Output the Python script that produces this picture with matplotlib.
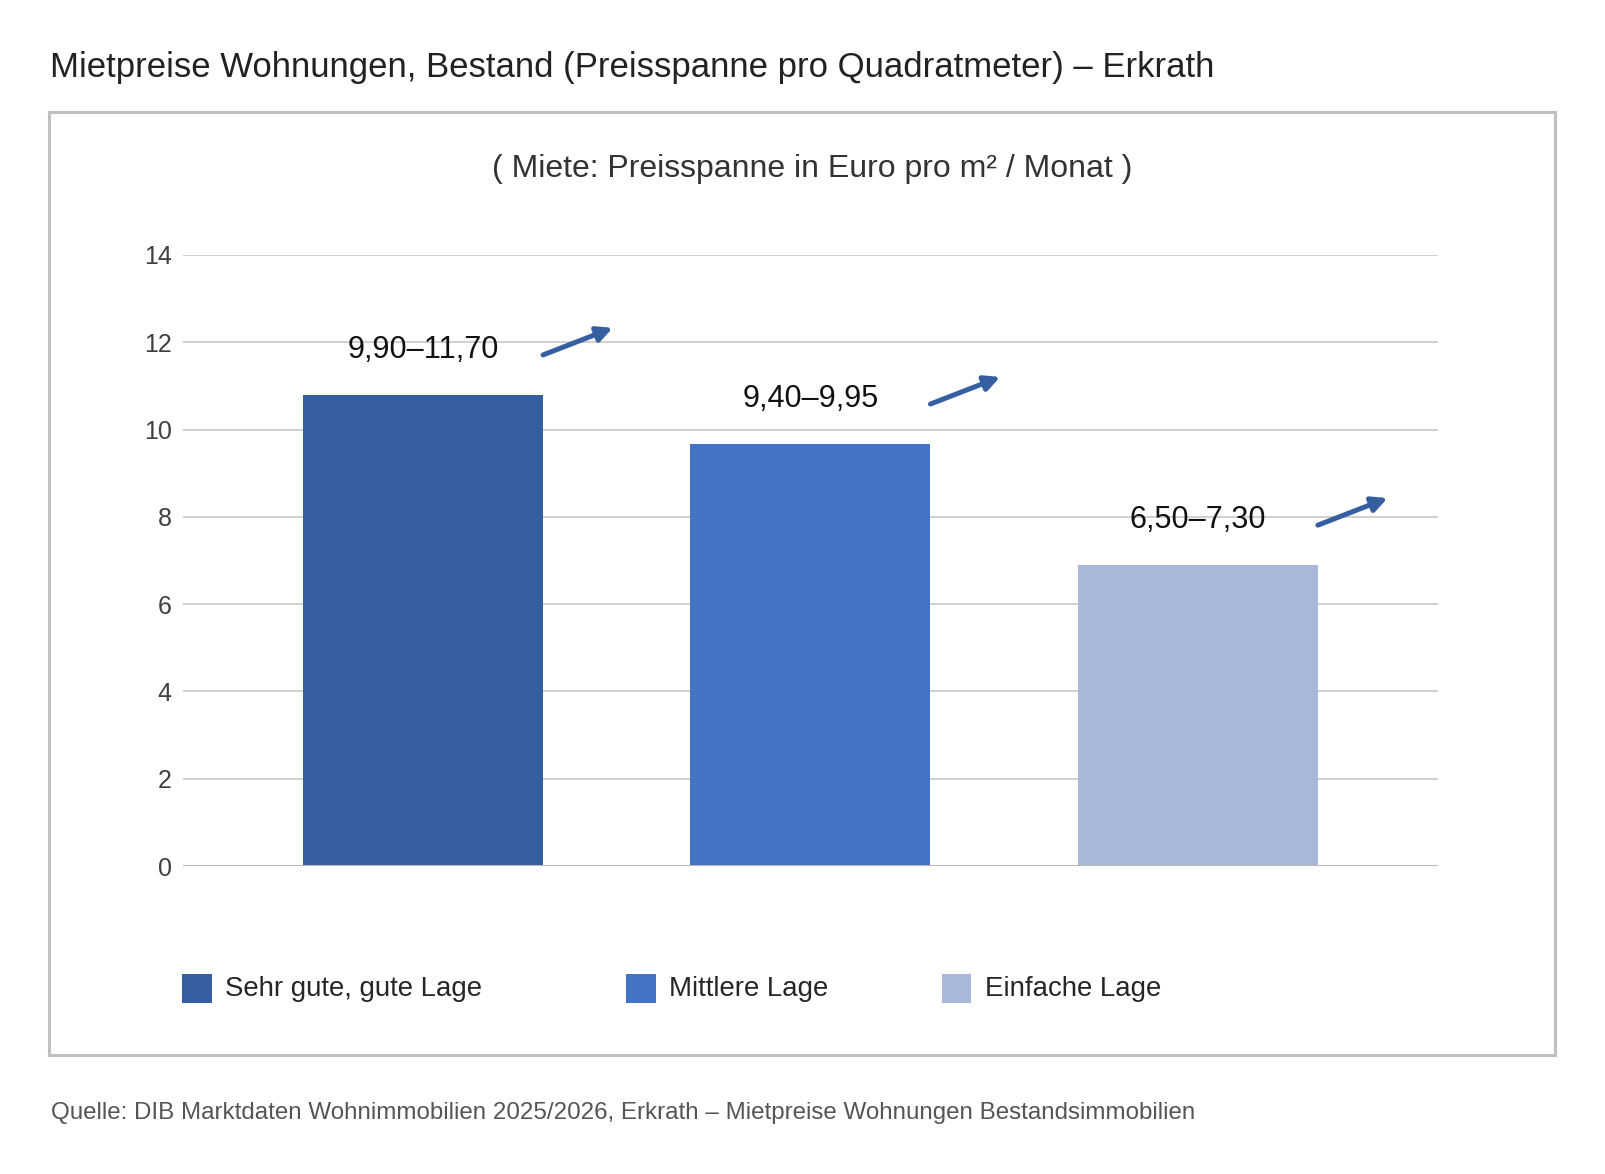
import matplotlib.pyplot as plt
from matplotlib.patches import Rectangle

plt.rcParams['font.family'] = ['Liberation Sans', 'DejaVu Sans']

# Daten
kategorien = ['Sehr gute, gute Lage', 'Mittlere Lage', 'Einfache Lage']
spanne_text = ['9,90–11,70', '9,40–9,95', '6,50–7,30']
von = [9.90, 9.40, 6.50]
bis = [11.70, 9.95, 7.30]
mitte = [(a + b) / 2 for a, b in zip(von, bis)]
farben = ['#365fa2', '#4472c4', '#a9b7db']
y_ticks = [0, 2, 4, 6, 8, 10, 12, 14]

fig = plt.figure(figsize=(16.05, 11.74), dpi=100)
W, H = 1605, 1174

# Rahmen um das Diagramm
fig.patches.append(Rectangle((48.5 / W, 1 - 1055 / H), (1555 - 48.5) / W, (1055 - 111.7) / H,
                             transform=fig.transFigure, fill=False, edgecolor='#c0c0c0', linewidth=2.2))

fig.text(50 / W, 1 - 76.7 / H, 'Mietpreise Wohnungen, Bestand (Preisspanne pro Quadratmeter) – Erkrath',
         fontsize=25, color='#222222', ha='left', va='baseline')
fig.text(812 / W, 1 - 176.7 / H, '( Miete: Preisspanne in Euro pro m² / Monat )',
         fontsize=23, color='#333333', ha='center', va='baseline')
fig.text(51 / W, 1 - 1119.3 / H,
         'Quelle: DIB Marktdaten Wohnimmobilien 2025/2026, Erkrath – Mietpreise Wohnungen Bestandsimmobilien',
         fontsize=17.4, color='#555555', ha='left', va='baseline')

ax = fig.add_axes([182.7 / W, 1 - 866 / H, (1438 - 182.7) / W, (866 - 255) / H])
x = list(range(len(kategorien)))
bars = ax.bar(x, mitte, width=0.62, color=farben, zorder=3)
ax.set_xlim(-0.62, 2.62)
ax.set_ylim(0, 14)
ax.set_yticks(y_ticks)
ax.set_xticks([])
ax.tick_params(axis='y', length=0, pad=8, labelsize=18, labelcolor='#404040')
for s in ax.spines.values():
    s.set_visible(False)
ax.grid(axis='y', color='#d0d0d0', linewidth=1.4, zorder=0)
ax.axhline(0, color='#b8b8b8', linewidth=2.2, zorder=4)

for i, (m, t) in enumerate(zip(mitte, spanne_text)):
    ax.text(i, m + 1.03, t, ha='center', va='center', fontsize=22.1, color='#111111', zorder=5)
    ax.annotate('', xy=(i + 0.49, m + 1.53), xytext=(i + 0.31, m + 0.91),
                arrowprops=dict(arrowstyle='-|>,head_length=0.9,head_width=0.45',
                                color='#365fa2', linewidth=3.6, shrinkA=0, shrinkB=0),
                annotation_clip=False, zorder=5)

# Legende von Hand
leg_x = [182.3, 626.3, 942]
for lx, k, f in zip(leg_x, kategorien, farben):
    fig.patches.append(Rectangle((lx / W, 1 - 1002.7 / H), 29.4 / W, 28.7 / H,
                                 transform=fig.transFigure, facecolor=f, edgecolor='none'))
    fig.text((lx + 43) / W, 1 - 988.5 / H, k, fontsize=19.9, color='#262626', ha='left', va='center')

fig.savefig('out.png', dpi=100, facecolor='white')
